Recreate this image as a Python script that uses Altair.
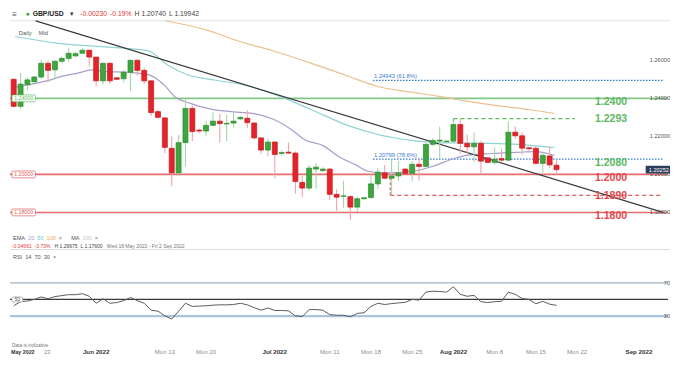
import altair as alt
import pandas as pd

# ---------------- data ----------------
dates = [
    "2022-05-18", "2022-05-19", "2022-05-20", "2022-05-22", "2022-05-23", "2022-05-24", "2022-05-25", "2022-05-26",
    "2022-05-27", "2022-05-29", "2022-05-30", "2022-05-31",
    "2022-06-01", "2022-06-02", "2022-06-03", "2022-06-05", "2022-06-06", "2022-06-07", "2022-06-08", "2022-06-09",
    "2022-06-10", "2022-06-12", "2022-06-13", "2022-06-14", "2022-06-15", "2022-06-16", "2022-06-17", "2022-06-19",
    "2022-06-20", "2022-06-21", "2022-06-22", "2022-06-23", "2022-06-24", "2022-06-26", "2022-06-27", "2022-06-28",
    "2022-06-29", "2022-06-30",
    "2022-07-01", "2022-07-03", "2022-07-04", "2022-07-05", "2022-07-06", "2022-07-07", "2022-07-08", "2022-07-10",
    "2022-07-11", "2022-07-12", "2022-07-13", "2022-07-14", "2022-07-15", "2022-07-17", "2022-07-18", "2022-07-19",
    "2022-07-20", "2022-07-21", "2022-07-22", "2022-07-24", "2022-07-25", "2022-07-26", "2022-07-27", "2022-07-28",
    "2022-07-29", "2022-07-31",
    "2022-08-01", "2022-08-02", "2022-08-03", "2022-08-04", "2022-08-05", "2022-08-07", "2022-08-08", "2022-08-09",
    "2022-08-10", "2022-08-11", "2022-08-12", "2022-08-14", "2022-08-15", "2022-08-16", "2022-08-17", "2022-08-18",
]
FIRST_SLOT = -12  # chart slot of the first candle (slot 0 = 1 Jun 2022)

opens = [
    1.2500, 1.2358, 1.2472, 1.2487, 1.2512, 1.2584, 1.2550, 1.2595, 1.2610, 1.2623, 1.2637, 1.2653,
    1.2617, 1.2492, 1.2584, 1.2508, 1.2503, 1.2537, 1.2600, 1.2547, 1.2492, 1.2330,
    1.2297, 1.2137, 1.2008, 1.2167, 1.2347, 1.2233, 1.2228, 1.2258, 1.2280, 1.2265,
    1.2270, 1.2292, 1.2295, 1.2270, 1.2192, 1.2128, 1.2170, 1.2110, 1.2117, 1.2112,
    1.1958, 1.1928, 1.2028, 1.2020, 1.2028, 1.1895, 1.1885, 1.1883, 1.1828, 1.1872,
    1.1878, 1.1950, 1.2008, 1.1980, 1.1992, 1.2028, 1.2005, 1.2053, 1.2042, 1.2158,
    1.2175, 1.2172, 1.2175, 1.2262, 1.2163, 1.2145, 1.2163, 1.2087, 1.2063, 1.2083,
    1.2075, 1.2222, 1.2203, 1.2140, 1.2137, 1.2058, 1.2097, 1.20482,
]
highs = [
    1.2505, 1.2533, 1.2508, 1.2517, 1.2604, 1.2597, 1.2600, 1.2620, 1.26675, 1.2643, 1.2663, 1.2655,
    1.2618, 1.2590, 1.2590, 1.2510, 1.2550, 1.2603, 1.2605, 1.2560, 1.2495, 1.2340,
    1.2300, 1.2200, 1.2208, 1.2397, 1.2363, 1.2240, 1.2280, 1.2325, 1.2317, 1.2313,
    1.2325, 1.2307, 1.2337, 1.2275, 1.2193, 1.2187, 1.2175, 1.2127, 1.2167, 1.2120,
    1.1992, 1.2050, 1.2058, 1.2037, 1.2033, 1.1920, 1.1967, 1.1890, 1.1883, 1.1882,
    1.2000, 1.2033, 1.2050, 1.2083, 1.2070, 1.2033, 1.2070, 1.2087, 1.2167, 1.2192,
    1.2250, 1.2180, 1.2285, 1.2293, 1.2208, 1.2220, 1.2175, 1.2090, 1.2142, 1.2133,
    1.2278, 1.2253, 1.2220, 1.2147, 1.2150, 1.2117, 1.2147, 1.20740,
]
lows = [
    1.2350, 1.2342, 1.2442, 1.2483, 1.2500, 1.2484, 1.2504, 1.2583, 1.2592, 1.2618, 1.2630, 1.2567,
    1.2463, 1.2475, 1.2475, 1.2497, 1.2484, 1.2437, 1.2520, 1.2475, 1.2308, 1.2295,
    1.2113, 1.1937, 1.1992, 1.2042, 1.2175, 1.2215, 1.2203, 1.2253, 1.2167, 1.2175,
    1.2247, 1.2288, 1.2242, 1.2182, 1.2108, 1.2095, 1.1980, 1.2100, 1.2108, 1.1900,
    1.1880, 1.1917, 1.1925, 1.2013, 1.1867, 1.1808, 1.1825, 1.1760, 1.1803, 1.1868,
    1.1875, 1.1925, 1.1975, 1.1890, 1.1967, 1.2003, 1.1967, 1.1967, 1.2037, 1.2150,
    1.2083, 1.2165, 1.2167, 1.2110, 1.2108, 1.2067, 1.2005, 1.2060, 1.2050, 1.2067,
    1.2070, 1.2187, 1.2105, 1.2125, 1.2052, 1.2008, 1.2033, 1.19942,
]
closes = [
    1.2358, 1.2475, 1.2497, 1.2512, 1.2584, 1.2547, 1.2595, 1.2610, 1.2637, 1.2635, 1.2653, 1.2617,
    1.2492, 1.2584, 1.2492, 1.2500, 1.2537, 1.2600, 1.2547, 1.2492, 1.2325, 1.2300,
    1.2142, 1.2008, 1.2167, 1.2347, 1.2225, 1.2228, 1.2258, 1.2280, 1.2267, 1.2268,
    1.2280, 1.2300, 1.2272, 1.2192, 1.2128, 1.2170, 1.2105, 1.2115, 1.2112, 1.1962,
    1.1928, 1.2033, 1.2038, 1.2028, 1.1895, 1.1880, 1.1887, 1.1828, 1.1872, 1.1877,
    1.1950, 1.2012, 1.1980, 1.1992, 1.2008, 1.2005, 1.2053, 1.2042, 1.2158, 1.2178,
    1.2180, 1.2175, 1.2262, 1.2163, 1.2145, 1.2163, 1.2070, 1.2063, 1.2080, 1.2075,
    1.2222, 1.2203, 1.2138, 1.2135, 1.2058, 1.2100, 1.2050, 1.20252,
]
rsi_values = [
    42.4, 47.3, 48.1, 50.0, 53.0, 50.8, 53.4, 54.6, 55.7, 55.7, 56.9, 53.8,
    45.4, 50.8, 45.4, 46.2, 48.5, 52.3, 48.5, 45.4, 37.1, 35.9,
    30.2, 26.4, 35.9, 45.4, 41.6, 42.0, 42.4, 43.1, 43.5, 43.5,
    43.9, 45.4, 43.5, 40.1, 37.1, 39.7, 36.7, 36.7, 36.3, 30.2,
    29.4, 37.8, 37.8, 37.1, 31.7, 31.0, 31.0, 29.1, 33.2, 34.0,
    41.6, 45.4, 43.9, 45.0, 45.8, 46.6, 50.0, 49.2, 58.8, 59.9,
    59.5, 58.8, 65.2, 56.1, 53.8, 54.9, 47.3, 46.2, 47.3, 47.7,
    58.8, 56.1, 51.1, 50.0, 44.7, 47.7, 44.3, 42.8,
]

# moving averages (slot, value)
ema20_slot = [-11.8, -10, -7.2, -4.9, -2.5, -0.7, 1.1, 4.9, 7.6, 10, 11.4, 13.6, 16.9, 21.5, 22.9, 25.7,
              28.5, 30.3, 33.1, 35.4, 37.8, 39.6, 41.9, 46.1, 48.9, 52.1, 53.9, 57.6, 61.4, 64.0, 66.7]
ema20_val = [1.24585, 1.2470, 1.24915, 1.25165, 1.25335, 1.2550, 1.25415, 1.25365, 1.2525, 1.24665, 1.2410,
             1.2375, 1.23415, 1.2325, 1.2320, 1.22915, 1.22335, 1.21835, 1.2150, 1.20915, 1.2050, 1.20165,
             1.20085, 1.20165, 1.20415, 1.20835, 1.2100, 1.2110, 1.21165, 1.2120, 1.2100]
ema50_slot = [-11.8, -5.8, 3.5, 7.6, 10.4, 13.2, 17.4, 21.5, 25.7, 31.25, 36.8, 41.0, 45.6, 49.3, 53.5,
              58.6, 63.2, 66.7]
ema50_val = [1.2725, 1.2690, 1.2665, 1.2650, 1.2575, 1.2525, 1.2495, 1.2470, 1.2425, 1.23415, 1.2255,
             1.2210, 1.2180, 1.21675, 1.2165, 1.2162, 1.21525, 1.2140]
ema100_slot = [10.0, 16.0, 20.8, 25.7, 31.25, 36.8, 40.7, 45.4, 50.0, 53.9, 58.6, 63.2, 66.7]
ema100_val = [1.2808, 1.2760, 1.2700, 1.2650, 1.2585, 1.2515, 1.2465, 1.2435, 1.2410, 1.2385, 1.2360,
              1.2340, 1.2320]

trend_slot = [-8.8, 82.5]
trend_val = [1.28075, 1.1800]

# annotated levels
solid_levels = [1.2400, 1.2000, 1.1800]
solid_level_text = ["1.2400", "1.2000", "1.1800"]
solid_level_color = ["#76c17a", "#e35d5d", "#e35d5d"]
solid_label_color = ["#5cb860", "#e2474c", "#e2474c"]
dashed_levels = [1.2293, 1.1890]
dashed_level_text = ["1.2293", "1.1890"]
dashed_start = [52.0, 42.8]
dashed_end = [69.7, 82.5]
dashed_anchor = [1.2262, 1.1992]
dashed_color = ["#5dbb63", "#e35d5d"]
dashed_label_color = ["#5cb860", "#e2474c"]
fib_levels = [1.24943, 1.20799]
fib_text = ["1.24943 (61.8%)", "1.20799 (78.6%)"]
fib_start = 40.3
label_2080 = 1.2080
right_ticks = [1.26, 1.24, 1.22, 1.20, 1.18]
right_tick_text = ["1.26000", "1.24000", "1.22000", "1.20000", "1.18000"]
left_box_levels = [1.24, 1.20, 1.18]
left_box_text = ["1.24000", "1.20000", "1.18000"]
left_box_color = ["#5dbb63", "#e35d5d", "#e35d5d"]
last_price = 1.20252

tick_slot = [0, 10, 16, 26, 34, 40, 46, 52, 58, 64, 70, 79]
tick_text = ["Jun 2022", "Mon 13", "Mon 20", "Jul 2022", "Mon 11", "Mon 18", "Mon 25",
             "Aug 2022", "Mon 8", "Mon 15", "Mon 22", "Sep 2022"]
tick_month = [True, False, False, True, False, False, False, True, False, False, False, True]
first_day_slot = -8
first_day_text = "23"

# ---------------- layout helpers ----------------
W, H = 662, 348
REF_W, REF_H = 679, 366
SX, SY = W / REF_W, H / REF_H


def px(v):
    return v * SX


def py(v):
    return v * SY


FONT = "Liberation Sans, Arial, DejaVu Sans"
XS = alt.Scale(domain=[-11.81, 82.5], nice=False, zero=False)
PS = alt.Scale(domain=[1.1045, 1.2875], nice=False, zero=False)
RS = alt.Scale(domain=[-18.0, 400.3], nice=False, zero=False)

CW = {".": .278, ",": .278, "-": .333, "%": .889, " ": .278, "/": .278, "(": .333, ")": .333,
      "×": .584, "≡": .7, "●": .6, "▾": .6, "M": .833, "W": .944, "I": .278, "L": .556, "F": .611,
      "H": .722, "D": .722, "G": .778, "U": .722, "R": .722, "C": .722, "O": .778, "T": .611,
      "i": .222, "l": .222, "j": .222, "f": .278, "t": .278, "r": .333, "m": .833, "w": .722,
      "y": .5, "k": .5, "s": .5, "c": .5, "v": .5, "x": .5, "z": .5}


def text_w(s, size, bold=False):
    w = 0.0
    for ch in s:
        if ch.isdigit():
            w += .556
        elif ch in CW:
            w += CW[ch]
        elif ch.isupper():
            w += .667
        else:
            w += .556
    return w * size * (1.06 if bold else 1.0)


def X(field):
    return alt.X(f"{field}:Q", scale=XS, axis=None)


def YP(field):
    return alt.Y(f"{field}:Q", scale=PS, axis=None)


def YR(field):
    return alt.Y(f"{field}:Q", scale=RS, axis=None)


def txt(text, x, y, color="#333333", size=5.8, weight="normal", align="left"):
    return alt.Chart(pd.DataFrame({"t": [text]})).mark_text(
        align=align, baseline="middle", fontSize=size, fontWeight=weight, color=color, font=FONT
    ).encode(x=alt.value(x), y=alt.value(py(y)), text="t:N")


def seq(pieces, x0, y, size, gap):
    """lay out a row of text pieces (text, colour, bold, extra_gap) left to right, in output pixels"""
    out = []
    x = px(x0)
    for text, color, bold, extra in pieces:
        x += extra
        out.append(txt(text, x, y, color, size, "bold" if bold else "normal"))
        x += text_w(text, size, bold) + gap
    return out


layers = []

# separators
layers.append(alt.Chart(pd.DataFrame({"a": [0]})).mark_rule(color="#e4e4e4", strokeWidth=1).encode(
    x=alt.value(0), x2=alt.value(W), y=alt.value(py(13.3))))
layers.append(alt.Chart(pd.DataFrame({"a": [0]})).mark_rule(color="#dddddd", strokeWidth=1).encode(
    x=alt.value(0), x2=alt.value(W), y=alt.value(py(254))))

# full-width level lines
for lv, col in zip(solid_levels, solid_level_color):
    layers.append(alt.Chart(pd.DataFrame({"p": [lv]})).mark_rule(color=col, strokeWidth=1.6, opacity=0.9).encode(
        y=YP("p")))

# fib dotted lines
fib_df = pd.DataFrame({"p": fib_levels, "t": fib_text, "s": [fib_start] * 2, "e": [82.5] * 2})
layers.append(alt.Chart(fib_df).mark_rule(color="#2f7bd8", strokeWidth=1.2, strokeDash=[1.5, 1.5]).encode(
    x=X("s"), x2="e:Q", y=YP("p")))
layers.append(alt.Chart(fib_df).mark_text(align="left", baseline="bottom", dx=1, dy=-1, fontSize=5.8,
                                           color="#3c7bd0", font=FONT).encode(x=X("s"), y=YP("p"), text="t:N"))

# dashed levels
for lv, s, e, a, col in zip(dashed_levels, dashed_start, dashed_end, dashed_anchor, dashed_color):
    d = pd.DataFrame({"p": [lv], "s": [s], "e": [e], "a": [a]})
    layers.append(alt.Chart(d).mark_rule(color=col, strokeWidth=1.3, strokeDash=[4, 3]).encode(
        x=X("s"), x2="e:Q", y=YP("p")))
    layers.append(alt.Chart(d).mark_rule(color=col, strokeWidth=1.1, strokeDash=[3, 2]).encode(
        x=X("s"), y=YP("p"), y2="a:Q"))

# EMAs and trend line
for sl, vl, col in [(ema100_slot, ema100_val, "#ebc08d"), (ema50_slot, ema50_val, "#8fd3d6"),
                    (ema20_slot, ema20_val, "#a99dcb")]:
    layers.append(alt.Chart(pd.DataFrame({"s": sl, "v": vl})).mark_line(
        color=col, strokeWidth=1.2, interpolate="monotone", clip=True).encode(x=X("s"), y=YP("v")))
layers.append(alt.Chart(pd.DataFrame({"s": trend_slot, "v": trend_val})).mark_line(
    color="#3a3a3a", strokeWidth=1.2, clip=True).encode(x=X("s"), y=YP("v")))

# candles
cd = pd.DataFrame({"date": dates, "o": opens, "h": highs, "l": lows, "c": closes})
cd["slot"] = [i + FIRST_SLOT for i in range(len(dates))]
up = cd[cd["c"] >= cd["o"]]
dn = cd[cd["c"] < cd["o"]]
styles = [(up, "#a3d7a5", "#3da63f", "#2e8b30"), (dn, "#f3a3a6", "#e5232a", "#c21a20")]
for d, wick, fill, stroke in styles:
    layers.append(alt.Chart(d).mark_rule(color=wick, strokeWidth=1.1, clip=True).encode(
        x=X("slot"), y=YP("l"), y2="h:Q"))
for d, wick, fill, stroke in styles:
    layers.append(alt.Chart(d).mark_bar(size=5, fill=fill, stroke=stroke, strokeWidth=0.7, clip=True).encode(
        x=X("slot"), y=YP("o"), y2="c:Q"))

# level labels on the right
LBL_X = px(600)
for lv, t, col in zip(solid_levels, solid_level_text, solid_label_color):
    layers.append(alt.Chart(pd.DataFrame({"p": [lv], "t": [t]})).mark_text(
        align="left", baseline="middle", dy=4, fontSize=10.5, fontWeight="bold", color=col, font=FONT).encode(
        x=alt.value(LBL_X), y=YP("p"), text="t:N"))
for lv, t, col in zip(dashed_levels, dashed_level_text, dashed_label_color):
    layers.append(alt.Chart(pd.DataFrame({"p": [lv], "t": [t]})).mark_text(
        align="left", baseline="middle", dy=0.5, fontSize=10.5, fontWeight="bold", color=col, font=FONT).encode(
        x=alt.value(LBL_X), y=YP("p"), text="t:N"))
layers.append(alt.Chart(pd.DataFrame({"p": [label_2080], "t": ["1.2080"]})).mark_text(
    align="left", baseline="middle", dy=3.5, fontSize=10.5, fontWeight="bold", color="#5cb860", font=FONT).encode(
    x=alt.value(LBL_X), y=YP("p"), text="t:N"))

# right price-axis labels
layers.append(alt.Chart(pd.DataFrame({"p": right_ticks, "t": right_tick_text})).mark_text(
    align="right", baseline="middle", fontSize=5.6, color="#555555", font=FONT).encode(
    x=alt.value(px(677)), y=YP("p"), text="t:N"))

# left boxed labels
for lv, t, col in zip(left_box_levels, left_box_text, left_box_color):
    d = pd.DataFrame({"p": [lv], "t": [t]})
    layers.append(alt.Chart(d).transform_calculate(top="datum.p + 0.0018", bot="datum.p - 0.0018").mark_rect(
        fill="white", stroke=col, strokeWidth=0.7, cornerRadius=1).encode(
        x=alt.value(px(2)), x2=alt.value(px(26)), y=YP("top"), y2="bot:Q"))
    layers.append(alt.Chart(d).mark_text(align="center", baseline="middle", fontSize=5.2, color=col,
                                         font=FONT).encode(x=alt.value(px(14)), y=YP("p"), text="t:N"))

# last price tag
lp = pd.DataFrame({"p": [last_price], "t": [f"{last_price:.5f}"]})
layers.append(alt.Chart(lp).transform_calculate(top="datum.p + 0.0020", bot="datum.p - 0.0020").mark_rect(
    fill="#2d3e5c", cornerRadius=1).encode(x=alt.value(px(652)), x2=alt.value(W), y=YP("top"), y2="bot:Q"))
layers.append(alt.Chart(lp).mark_text(align="center", baseline="middle", fontSize=5.6, color="white",
                                      font=FONT).encode(x=alt.value(px(665.5)), y=YP("p"), text="t:N"))

# RSI panel
for lv, col, sw in [(70, "#9fb3c7", 1.2), (50, "#3a3a3a", 1.3), (30, "#a9c4de", 2.2)]:
    layers.append(alt.Chart(pd.DataFrame({"r": [lv]})).mark_rule(color=col, strokeWidth=sw).encode(y=YR("r")))
rsi_df = pd.DataFrame({"slot": cd["slot"], "r": rsi_values})
layers.append(alt.Chart(rsi_df).mark_line(color="#5c5c5c", strokeWidth=1, clip=True).encode(
    x=X("slot"), y=YR("r")))
layers.append(alt.Chart(pd.DataFrame({"r": [70, 30], "t": ["70", "30"]})).mark_text(
    align="right", baseline="middle", fontSize=5.6, color="#555555", font=FONT).encode(
    x=alt.value(px(677)), y=YR("r"), text="t:N"))
d50 = pd.DataFrame({"r": [50], "t": ["50"]})
layers.append(alt.Chart(d50).transform_calculate(top="datum.r + 3.0", bot="datum.r - 3.0").mark_rect(
    fill="white", stroke="#999999", strokeWidth=0.6, cornerRadius=1).encode(
    x=alt.value(px(2)), x2=alt.value(px(13)), y=YR("top"), y2="bot:Q"))
layers.append(alt.Chart(d50).mark_text(align="center", baseline="middle", fontSize=5.2, color="#555555",
                                       font=FONT).encode(x=alt.value(px(7.5)), y=YR("r"), text="t:N"))

# x tick labels
tk = pd.DataFrame({"s": tick_slot, "t": tick_text, "m": tick_month})
layers.append(alt.Chart(tk[tk["m"]]).mark_text(
    align="center", baseline="middle", fontSize=6.2, fontWeight="bold", color="#333333", font=FONT).encode(
    x=X("s"), y=alt.value(py(362)), text="t:N"))
layers.append(alt.Chart(tk[~tk["m"]]).mark_text(
    align="center", baseline="middle", fontSize=6.0, color="#8a8a8a", font=FONT).encode(
    x=X("s"), y=alt.value(py(362)), text="t:N"))
layers.append(alt.Chart(pd.DataFrame({"s": [first_day_slot], "t": [first_day_text]})).mark_text(
    align="left", baseline="middle", dx=3, fontSize=5.6, color="#8a8a8a", font=FONT).encode(
    x=X("s"), y=alt.value(py(362)), text="t:N"))

# header & legend texts
layers += seq([("≡", "#555555", False, 0)], 2, 6.5, 8.5, 0)
layers += seq([("●", "#2da94f", False, 0), ("GBP/USD", "#222222", True, 0), ("▾", "#333333", False, 2),
               ("-0.00230", "#e53935", False, 3), ("-0.19%", "#e53935", False, 0),
               ("H 1.20740", "#444444", False, 0), ("L 1.19942", "#444444", False, 0)], 16, 6.5, 6.8, 3)
layers += seq([("Daily", "#555555", False, 0), ("Mid", "#555555", False, 4)], 9, 26, 5.8, 3)
layers += seq([("EMA", "#555555", False, 0), ("20", "#a99dcb", False, 0), ("50", "#6fc6cc", False, 0),
               ("100", "#e8a85c", False, 0), ("×", "#777777", False, 0), ("MA", "#555555", False, 6),
               ("200", "#c8c8c8", False, 0), ("×", "#777777", False, 0)], 3, 242, 5.6, 3)
layers += seq([("-0.04661", "#e53935", False, 0), ("-3.73%", "#e53935", False, 0),
               ("H 1.26675", "#444444", False, 1), ("L 1.17600", "#444444", False, 0),
               ("Wed 18 May 2022 - Fri 2 Sep 2022", "#777777", False, 1)], 2, 250.7, 5.0, 3)
layers += seq([("RSI", "#555555", False, 0), ("14", "#555555", False, 0), ("70", "#555555", False, 0),
               ("30", "#555555", False, 0), ("×", "#777777", False, 0)], 3, 262, 5.6, 3)
layers += [
    txt("Data is indicative", px(2), 355, "#777777", 4.8),
    txt("May 2022", px(1), 362, "#333333", 5.3, "bold"),
]

chart = alt.layer(*layers).resolve_scale(y="independent").properties(
    width=W, height=H, padding=0,
    autosize=alt.AutoSizeParams(type="fit", contains="padding"),
    background="white",
).configure_view(stroke=None)

chart.save("out.html", embed_options={"renderer": "svg", "actions": False})
